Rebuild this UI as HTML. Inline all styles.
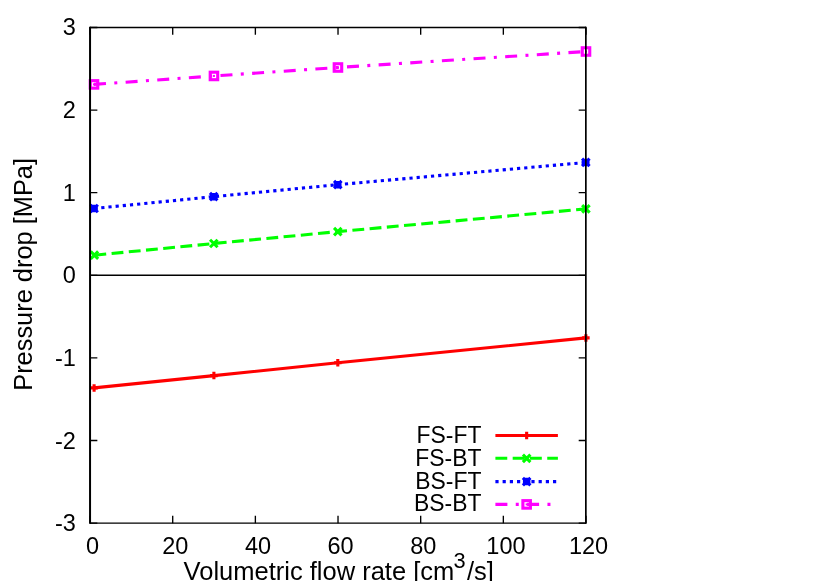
<!DOCTYPE html>
<html><head><meta charset="utf-8"><title>Pressure drop vs volumetric flow rate</title>
<style>
html,body{margin:0;padding:0;background:#fff;}
body{width:830px;height:581px;overflow:hidden;position:relative;}
svg{position:absolute;left:0;top:0;display:block;will-change:transform;}
text{font-family:"Liberation Sans",sans-serif;fill:#000;}
</style></head><body>
<svg width="830" height="581" viewBox="0 0 830 581">
<rect x="0" y="0" width="830" height="581" fill="#ffffff"/>

<g fill="none" stroke-linecap="butt" stroke-linejoin="miter">
<path d="M94.10 387.90 L213.90 375.60 L337.80 362.80 L585.90 337.90" stroke="#ff0000" stroke-width="3.1"/>
<path d="M90.35 387.90H97.85M94.10 384.15V391.65" stroke="#ff0000" stroke-width="3.1" fill="none"/>
<path d="M210.15 375.60H217.65M213.90 371.85V379.35" stroke="#ff0000" stroke-width="3.1" fill="none"/>
<path d="M334.05 362.80H341.55M337.80 359.05V366.55" stroke="#ff0000" stroke-width="3.1" fill="none"/>
<path d="M582.15 337.90H589.65M585.90 334.15V341.65" stroke="#ff0000" stroke-width="3.1" fill="none"/>
<path d="M94.40 255.20 L213.80 243.50 L337.80 231.65 L585.90 208.90" stroke="#00ff00" stroke-width="3.1" stroke-dasharray="11.85 5.43"/>
<path d="M90.65 251.45L98.15 258.95M90.65 258.95L98.15 251.45" stroke="#00ff00" stroke-width="3.1" fill="none"/>
<path d="M210.05 239.75L217.55 247.25M210.05 247.25L217.55 239.75" stroke="#00ff00" stroke-width="3.1" fill="none"/>
<path d="M334.05 227.90L341.55 235.40M334.05 235.40L341.55 227.90" stroke="#00ff00" stroke-width="3.1" fill="none"/>
<path d="M582.15 205.15L589.65 212.65M582.15 212.65L589.65 205.15" stroke="#00ff00" stroke-width="3.1" fill="none"/>
<path d="M94.10 208.50 L213.70 196.65 L337.80 184.65 L585.80 162.45" stroke="#0000ff" stroke-width="3.1" stroke-dasharray="3.2 4.0"/>
<path d="M90.35 208.50H97.85M94.10 204.75V212.25M90.35 204.75L97.85 212.25M90.35 212.25L97.85 204.75" stroke="#0000ff" stroke-width="3.1" fill="none"/>
<path d="M209.95 196.65H217.45M213.70 192.90V200.40M209.95 192.90L217.45 200.40M209.95 200.40L217.45 192.90" stroke="#0000ff" stroke-width="3.1" fill="none"/>
<path d="M334.05 184.65H341.55M337.80 180.90V188.40M334.05 180.90L341.55 188.40M334.05 188.40L341.55 180.90" stroke="#0000ff" stroke-width="3.1" fill="none"/>
<path d="M582.05 162.45H589.55M585.80 158.70V166.20M582.05 158.70L589.55 166.20M582.05 166.20L589.55 158.70" stroke="#0000ff" stroke-width="3.1" fill="none"/>
<path d="M94.00 84.40 L213.95 75.95 L337.95 67.50 L586.00 51.50" stroke="#ff00ff" stroke-width="3.1" stroke-dasharray="12 8.35 3 8.35"/>
<rect x="90.25" y="80.65" width="7.50" height="7.50" stroke="#ff00ff" stroke-width="3.1" fill="none"/><rect x="93.00" y="83.40" width="2" height="2" fill="#ff00ff"/>
<rect x="210.20" y="72.20" width="7.50" height="7.50" stroke="#ff00ff" stroke-width="3.1" fill="none"/><rect x="212.95" y="74.95" width="2" height="2" fill="#ff00ff"/>
<rect x="334.20" y="63.75" width="7.50" height="7.50" stroke="#ff00ff" stroke-width="3.1" fill="none"/><rect x="336.95" y="66.50" width="2" height="2" fill="#ff00ff"/>
<rect x="582.25" y="47.75" width="7.50" height="7.50" stroke="#ff00ff" stroke-width="3.1" fill="none"/><rect x="585.00" y="50.50" width="2" height="2" fill="#ff00ff"/>
</g>
<g fill="none">
<path d="M495.4 435.5H557.9" stroke="#ff0000" stroke-width="3.1"/>
<path d="M522.90 435.50H530.40M526.65 431.75V439.25" stroke="#ff0000" stroke-width="3.1" fill="none"/>
<path d="M495.4 458.3H557.9" stroke="#00ff00" stroke-width="3.1" stroke-dasharray="11.85 5.43"/>
<path d="M522.90 454.55L530.40 462.05M522.90 462.05L530.40 454.55" stroke="#00ff00" stroke-width="3.1" fill="none"/>
<path d="M495.4 481.6H557.9" stroke="#0000ff" stroke-width="3.1" stroke-dasharray="3.2 4.0"/>
<path d="M522.90 481.60H530.40M526.65 477.85V485.35M522.90 477.85L530.40 485.35M522.90 485.35L530.40 477.85" stroke="#0000ff" stroke-width="3.1" fill="none"/>
<path d="M495.4 504.4H557.9" stroke="#ff00ff" stroke-width="3.1" stroke-dasharray="12 8.35 3 8.35"/>
<rect x="522.90" y="500.65" width="7.50" height="7.50" stroke="#ff00ff" stroke-width="3.1" fill="none"/><rect x="525.65" y="503.40" width="2" height="2" fill="#ff00ff"/>
</g>
<g stroke="#000" fill="none">
<path d="M90.05 27.45H586.0M90.05 523.15H586.0M90.05 275.30H586.0" stroke-width="1.4"/>
<path d="M90.05 26.75V523.85" stroke-width="2"/>
<path d="M585.85 26.75V523.85" stroke-width="1.7"/>
<path d="M90.05 523.15v-7.3M90.05 27.45v7.3M172.71 523.15v-7.3M172.71 27.45v7.3M255.37 523.15v-7.3M255.37 27.45v7.3M338.02 523.15v-7.3M338.02 27.45v7.3M420.68 523.15v-7.3M420.68 27.45v7.3M503.34 523.15v-7.3M503.34 27.45v7.3M586.00 523.15v-7.3M586.00 27.45v7.3M90.05 523.15h7.3M586.0 523.15h-7.3M90.05 440.53h7.3M586.0 440.53h-7.3M90.05 357.92h7.3M586.0 357.92h-7.3M90.05 275.30h7.3M586.0 275.30h-7.3M90.05 192.68h7.3M586.0 192.68h-7.3M90.05 110.07h7.3M586.0 110.07h-7.3M90.05 27.45h7.3M586.0 27.45h-7.3" stroke-width="1.35"/>
</g>
<g font-size="23.5">
<text x="75.9" y="531.15" text-anchor="end">-3</text>
<text x="75.9" y="448.53" text-anchor="end">-2</text>
<text x="75.9" y="365.92" text-anchor="end">-1</text>
<text x="75.9" y="283.30" text-anchor="end">0</text>
<text x="75.9" y="200.68" text-anchor="end">1</text>
<text x="75.9" y="118.07" text-anchor="end">2</text>
<text x="75.9" y="35.45" text-anchor="end">3</text>
<text x="92.65" y="554.1" text-anchor="middle">0</text>
<text x="175.31" y="554.1" text-anchor="middle">20</text>
<text x="257.97" y="554.1" text-anchor="middle">40</text>
<text x="340.62" y="554.1" text-anchor="middle">60</text>
<text x="423.28" y="554.1" text-anchor="middle">80</text>
<text x="505.94" y="554.1" text-anchor="middle">100</text>
<text x="588.60" y="554.1" text-anchor="middle">120</text>
<text transform="translate(481.5,442.9) scale(0.976,1)" text-anchor="end">FS-FT</text>
<text transform="translate(481.5,465.7) scale(0.976,1)" text-anchor="end">FS-BT</text>
<text transform="translate(481.5,488.8) scale(0.976,1)" text-anchor="end">BS-FT</text>
<text transform="translate(481.5,511.4) scale(0.976,1)" text-anchor="end">BS-BT</text>
</g>
<text font-size="25.5" x="183.6" y="580.3">Volumetric flow rate [cm<tspan font-size="21.8" x="453.5" y="568.1">3</tspan><tspan x="466.9" y="580.3">/s]</tspan></text>
<text font-size="25.4" transform="translate(31.5,390.8) rotate(-90)">Pressure drop [MPa]</text>
</svg></body></html>
